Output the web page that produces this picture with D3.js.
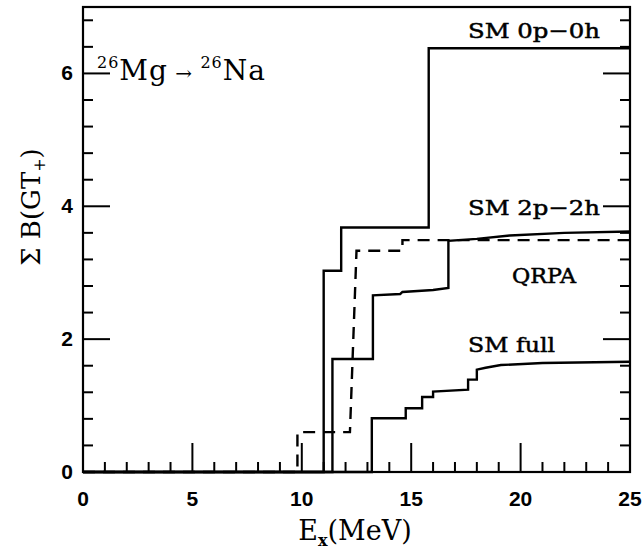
<!DOCTYPE html>
<html>
<head>
<meta charset="utf-8">
<script src="https://cdn.jsdelivr.net/npm/d3@7"></script>
<style>
  html, body { margin: 0; padding: 0; background: #fff; }
  svg text { fill: #000; }
</style>
</head>
<body>
<script>
'use strict';

// step curves: [E_x (MeV), cumulative B(GT+)]
const sm0p0h = [[0, 0], [11.0, 0], [11.0, 3.03], [11.8, 3.03], [11.8, 3.68],
  [15.8, 3.68], [15.8, 6.38], [25, 6.38]];
const sm2p2h = [[0, 0], [11.4, 0], [11.4, 1.7], [13.25, 1.7], [13.25, 2.66],
  [14.5, 2.68], [14.6, 2.71], [16.0, 2.74], [16.7, 2.77], [16.7, 3.48],
  [18.0, 3.51], [19.5, 3.56], [22, 3.6], [25, 3.62]];
const qrpa = [[0, 0], [9.8, 0], [9.8, 0.6], [12.2, 0.6], [12.5, 3.33],
  [14.6, 3.33], [14.6, 3.49], [25, 3.49]];
const smFull = [[0, 0], [13.2, 0], [13.2, 0.81], [14.75, 0.81], [14.75, 0.96],
  [15.5, 0.96], [15.5, 1.13], [16.0, 1.13], [16.0, 1.21], [17.6, 1.24],
  [17.6, 1.39], [18.0, 1.39], [18.0, 1.54], [18.4, 1.57], [19.1, 1.61],
  [21, 1.64], [25, 1.66]];

const xMajor = [0, 5, 10, 15, 20, 25];
const xMinor = d3.range(1, 25).filter(v => v % 5 !== 0);
const yMajor = [0, 2, 4, 6];
const yMinor = d3.range(1, 18).map(i => +(i * 0.4).toFixed(1)).filter(v => v % 2 !== 0);

const width = 643, height = 555;
const svg = d3.select('body').append('svg')
  .attr('width', width)
  .attr('height', height);

const x = d3.scaleLinear().domain([0, 25]).range([83, 630]);
const y = d3.scaleLinear().domain([0, 7]).range([472, 7]);

const serif = '"DejaVu Serif", "Liberation Serif", serif';
const sans = '"Liberation Sans", Arial, sans-serif';

// frame
svg.append('rect')
  .attr('x', x(0)).attr('y', y(7))
  .attr('width', x(25) - x(0)).attr('height', y(0) - y(7))
  .attr('fill', 'none').attr('stroke', '#000').attr('stroke-width', 2.2);

// ticks, all pointing into the plot
function tickLines(vals, len, axis) {
  const g = svg.append('g').attr('stroke', '#000').attr('stroke-width', 2);
  vals.forEach(v => {
    if (axis === 'x') {
      g.append('line').attr('x1', x(v)).attr('x2', x(v))
        .attr('y1', y(0)).attr('y2', y(0) - len);
    } else {
      g.append('line').attr('y1', y(v)).attr('y2', y(v))
        .attr('x1', x(0)).attr('x2', x(0) + len);
      g.append('line').attr('y1', y(v)).attr('y2', y(v))
        .attr('x1', x(25)).attr('x2', x(25) - len);
    }
  });
}
tickLines(xMajor.slice(1, -1), 29, 'x');
tickLines(xMinor, 10, 'x');
tickLines(yMajor.slice(1), 27, 'y');
tickLines(yMinor, 10, 'y');

// tick labels
svg.append('g').selectAll('text').data(xMajor).enter().append('text')
  .attr('x', d => x(d)).attr('y', 506)
  .attr('text-anchor', 'middle')
  .style('font-family', sans).style('font-weight', 'bold').style('font-size', '21px')
  .text(d => d);

svg.append('g').selectAll('text').data(yMajor).enter().append('text')
  .attr('x', 73).attr('y', d => y(d) + 7)
  .attr('text-anchor', 'end')
  .style('font-family', sans).style('font-weight', 'bold').style('font-size', '21px')
  .text(d => d);

// curves
const line = d3.line().x(d => x(d[0])).y(d => y(d[1]));
[[sm0p0h, null], [sm2p2h, null], [smFull, null], [qrpa, '12,8']].forEach(([data, dash]) => {
  svg.append('path')
    .attr('d', line(data))
    .attr('fill', 'none')
    .attr('stroke', '#000')
    .attr('stroke-width', 2.4)
    .attr('stroke-dasharray', dash);
});

// curve labels
const labels = [
  { t: 'SM 0p\u22120h', x: 468, y: 38, w: 132 },
  { t: 'SM 2p\u22122h', x: 468, y: 215, w: 132 },
  { t: 'QRPA', x: 512, y: 283, w: 64 },
  { t: 'SM full', x: 468, y: 352, w: 87 }
];
svg.append('g').selectAll('text').data(labels).enter().append('text')
  .attr('x', d => d.x).attr('y', d => d.y)
  .attr('textLength', d => d.w).attr('lengthAdjust', 'spacingAndGlyphs')
  .style('font-family', serif).style('font-size', '21px')
  .style('stroke', '#000').style('stroke-width', 0.5)
  .text(d => d.t);

// reaction label
const react = svg.append('text')
  .attr('x', 97).attr('y', 80)
  .attr('textLength', 168).attr('lengthAdjust', 'spacing')
  .style('font-family', serif).style('font-size', '28px');
react.append('tspan').attr('font-size', '16px').attr('dy', -12).text('26');
react.append('tspan').attr('dy', 12).text('Mg');
react.append('tspan').attr('font-size', '20px').text(' \u2192 ');
react.append('tspan').attr('font-size', '16px').attr('dy', -12).text('26');
react.append('tspan').attr('dy', 12).text('Na');

// axis titles
const xt = svg.append('text')
  .attr('x', 355).attr('y', 540)
  .attr('text-anchor', 'middle')
  .style('font-family', serif).style('font-size', '27px');
xt.append('tspan').text('E');
xt.append('tspan').attr('font-size', '16px').attr('dy', 6).attr('font-weight', 'bold').text('x');
xt.append('tspan').attr('dy', -6).text('(MeV)');

const yt = svg.append('text')
  .attr('transform', 'translate(40,207) rotate(-90)')
  .attr('text-anchor', 'middle')
  .style('font-family', serif).style('font-size', '26px');
yt.append('tspan').text('\u03A3 B(GT');
yt.append('tspan').attr('font-size', '16px').attr('dy', 5).text('+');
yt.append('tspan').attr('dy', -5).text(')');
</script>
</body>
</html>
